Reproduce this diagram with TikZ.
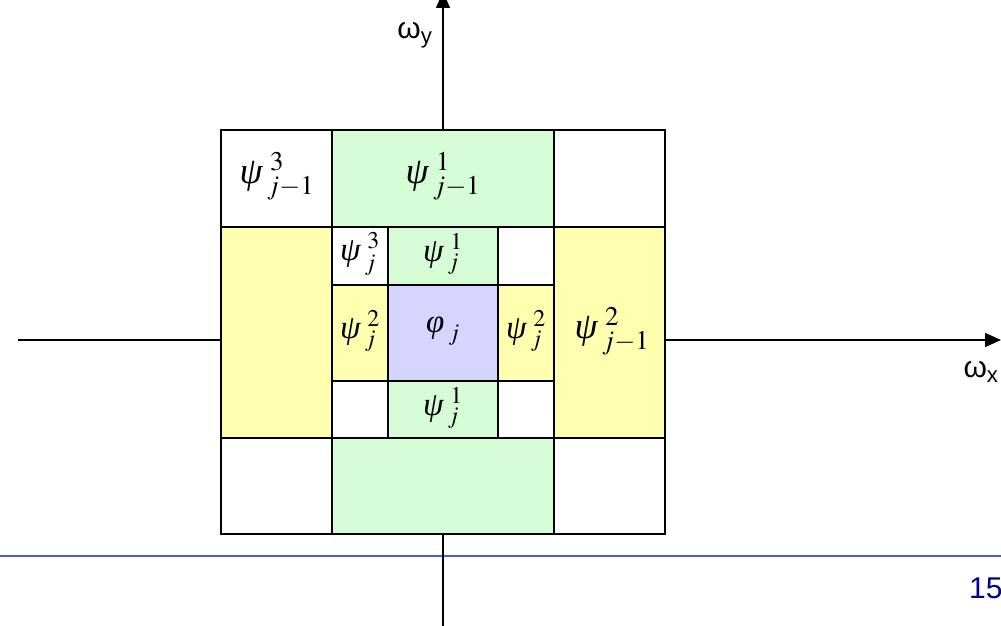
\documentclass[tikz,border=0pt]{standalone}
\usepackage{mathptmx}
\usepackage{fontspec}
\setmainfont{Liberation Serif}
\setsansfont{Liberation Sans}
\usetikzlibrary{arrows.meta}
\DeclareMathSizes{33}{33}{24}{17}
\DeclareMathSizes{37}{37}{27}{19}
\definecolor{cgreen}{RGB}{213,252,213}
\definecolor{cyellow}{RGB}{255,255,176}
\definecolor{cblue}{RGB}{213,213,255}
\definecolor{cline}{RGB}{70,90,240}
\definecolor{cnavy}{RGB}{0,0,140}
\newcommand{\wpsi}[2]{\textit{ψ}^{\mkern5mu #1}_{\mkern3mu #2}}
\begin{document}
\begin{tikzpicture}[x=1pt,y=1pt,
  cellbox/.style={draw=black,line width=1.3pt},
  axisline/.style={draw=black,line width=1.5pt},
  biglab/.style={inner sep=0pt,font=\fontsize{37}{40}\selectfont},
  smalllab/.style={inner sep=0pt,font=\fontsize{33}{36}\selectfont},
  axlab/.style={inner sep=0pt,font=\sffamily\fontsize{30}{32}\selectfont}]
\useasboundingbox (0,0) rectangle (1001,626);
% footer line and page number
\draw[cline,line width=1.5pt] (0,70) -- (1001,70);
\node[anchor=west,inner sep=0pt,text=cnavy,font=\sffamily\fontsize{30}{32}\selectfont] (pnum) at (969,38) {15};
% axes
\coordinate (yb) at (443,0);
\coordinate (yt) at (443,634);
\coordinate (xl) at (18,286);
\coordinate (xr) at (1001,286);
\draw[axisline,-{Triangle[length=16pt,width=14pt]}] (yb) -- (yt);
\draw[axisline,-{Triangle[length=16pt,width=14pt]}] (xl) -- (xr);
% outer ring
\path[cellbox,fill=white] (221,399) rectangle (332,496);
\path[cellbox,fill=cgreen] (332,399) rectangle (554,496);
\path[cellbox,fill=white] (554,399) rectangle (665,496);
\path[cellbox,fill=cyellow] (221,188) rectangle (332,399);
\path[cellbox,fill=cyellow] (554,188) rectangle (665,399);
\path[cellbox,fill=white] (221,92) rectangle (332,188);
\path[cellbox,fill=cgreen] (332,92) rectangle (554,188);
\path[cellbox,fill=white] (554,92) rectangle (665,188);
% inner ring
\path[cellbox,fill=white] (332,341) rectangle (388,399);
\path[cellbox,fill=cgreen] (388,341) rectangle (498,399);
\path[cellbox,fill=white] (498,341) rectangle (554,399);
\path[cellbox,fill=cyellow] (332,245) rectangle (388,341);
\path[cellbox,fill=cblue] (388,245) rectangle (498,341);
\path[cellbox,fill=cyellow] (498,245) rectangle (554,341);
\path[cellbox,fill=white] (332,188) rectangle (388,245);
\path[cellbox,fill=cgreen] (388,188) rectangle (498,245);
\path[cellbox,fill=white] (498,188) rectangle (554,245);
% labels
\node[biglab] (l3a) at (277,450) {$\wpsi{3}{j-1}$};
\node[biglab] (l1a) at (443,450) {$\wpsi{1}{j-1}$};
\node[biglab] (l2a) at (612,295) {$\wpsi{2}{j-1}$};
\node[smalllab] (l3b) at (360,372) {$\wpsi{3}{j}$};
\node[smalllab] (l1b) at (443,372) {$\wpsi{1}{j}$};
\node[smalllab] (l2b) at (360,295) {$\wpsi{2}{j}$};
\node[smalllab] (phi) at (443,295) {$\textit{φ}_{\mkern3mu j}$};
\node[smalllab] (l2c) at (526,295) {$\wpsi{2}{j}$};
\node[smalllab] (l1c) at (443,218) {$\wpsi{1}{j}$};
\node[axlab] (wy) at (415,591) {ω\textsubscript{y}};
\node[axlab] (wx) at (981,254) {ω\textsubscript{x}};
\end{tikzpicture}
\end{document}
